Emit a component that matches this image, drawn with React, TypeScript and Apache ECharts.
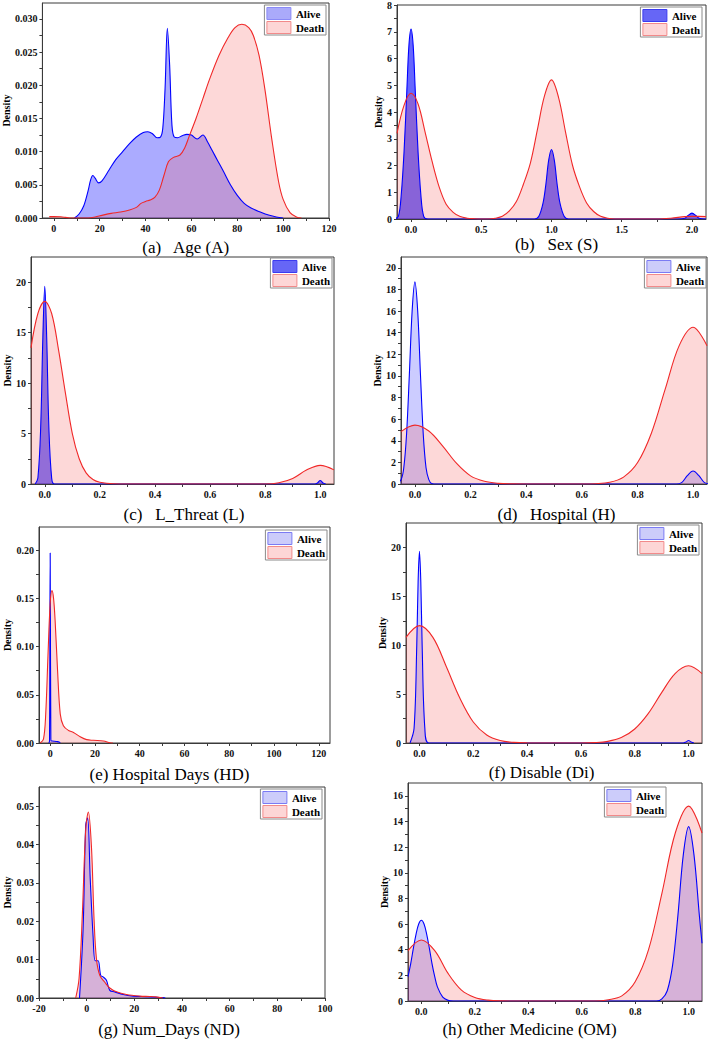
import React, { useEffect, useRef } from "react";
import * as echarts from "echarts";

// ---------- data ----------
const A_ALIVE_X = [9, 11, 13, 15, 16, 17, 18, 19.5, 21, 24, 27, 30, 33, 36, 39, 41, 43, 45, 46.5, 47.5, 48.5, 49.5, 50.5, 51.5, 52.5, 54, 56, 58, 60, 62.5, 65, 67, 69, 71.5, 74, 77, 80, 83, 86, 90, 94, 97, 100];
const A_ALIVE_Y = [0, 0.0006, 0.0018, 0.0042, 0.0057, 0.0064, 0.006, 0.0053, 0.0056, 0.0072, 0.0088, 0.01, 0.0112, 0.0122, 0.0129, 0.013, 0.0127, 0.0121, 0.0122, 0.0135, 0.0195, 0.0286, 0.023, 0.014, 0.0122, 0.0121, 0.0124, 0.0126, 0.0125, 0.0119, 0.0125, 0.0115, 0.0102, 0.0086, 0.007, 0.005, 0.0034, 0.0022, 0.0015, 0.0009, 0.0004, 0.00015, 0];
const A_DEATH_X = [-2, 0, 3, 5, 7, 15, 18, 21, 25, 29, 33, 36, 38, 40, 42, 44, 46, 48, 50, 52, 55, 57, 59, 62, 65, 68, 72, 76, 79, 82, 85, 87, 89.5, 92, 95, 98, 100, 103, 106, 108];
const A_DEATH_Y = [0.0002, 0.0002, 0.00018, 0.0001, 0, 0, 0.00015, 0.0004, 0.0007, 0.0009, 0.0012, 0.0016, 0.0022, 0.0025, 0.0027, 0.0031, 0.0042, 0.0064, 0.0085, 0.0091, 0.0095, 0.0105, 0.0123, 0.015, 0.018, 0.021, 0.0245, 0.0272, 0.0287, 0.0292, 0.0287, 0.0275, 0.0245, 0.0195, 0.012, 0.0055, 0.0028, 0.0008, 0.0001, 0];

const B_ALIVE_X = [-0.12, -0.09, -0.07, -0.05, -0.03, -0.015, 0, 0.015, 0.03, 0.05, 0.07, 0.09, 0.12, 0.88, 0.91, 0.94, 0.96, 0.98, 1.0, 1.02, 1.04, 1.06, 1.09, 1.12, 1.9, 1.95, 1.97, 2.0, 2.03, 2.05, 2.1];
const B_ALIVE_Y = [0, 0.1, 0.9, 2.5, 4.8, 6.5, 7.1, 6.5, 4.8, 2.5, 0.9, 0.1, 0, 0, 0.1, 0.6, 1.3, 2.2, 2.6, 2.2, 1.3, 0.6, 0.1, 0, 0, 0.03, 0.12, 0.22, 0.12, 0.03, 0];
const B_DEATH_X = [-0.1, -0.05, 0, 0.05, 0.1, 0.15, 0.2, 0.25, 0.3, 0.35, 0.4, 0.45, 0.5, 0.55, 0.6, 0.65, 0.7, 0.75, 0.8, 0.85, 0.9, 0.95, 1.0, 1.05, 1.1, 1.15, 1.2, 1.25, 1.3, 1.35, 1.4, 1.45, 1.5, 1.75, 1.85, 1.95, 2.0, 2.05, 2.1];
const B_DEATH_Y = [3.2, 4.25, 4.7, 4.3, 3.25, 2.15, 1.2, 0.55, 0.25, 0.09, 0.03, 0.01, 0, 0, 0.03, 0.1, 0.3, 0.65, 1.3, 2.1, 3.35, 4.6, 5.2, 4.55, 3.25, 2.0, 1.2, 0.6, 0.28, 0.1, 0.03, 0, 0, 0, 0.03, 0.09, 0.1, 0.1, 0.09];

const C_ALIVE_X = [-0.035, -0.025, -0.015, -0.007, 0, 0.007, 0.015, 0.025, 0.035, 0.98, 0.99, 1.0, 1.01, 1.02];
const C_ALIVE_Y = [0, 0.6, 5.5, 14.5, 19.6, 14.5, 5.5, 0.6, 0, 0, 0.1, 0.35, 0.1, 0];
const C_DEATH_X = [-0.05, -0.025, 0, 0.025, 0.05, 0.075, 0.1, 0.125, 0.15, 0.175, 0.2, 0.25, 0.3, 0.8, 0.85, 0.9, 0.95, 1.0, 1.05];
const C_DEATH_Y = [13.5, 16.9, 18.1, 16.9, 13.3, 9.0, 5.0, 2.5, 1.1, 0.45, 0.18, 0.02, 0, 0, 0.12, 0.55, 1.38, 1.85, 1.4];

const D_ALIVE_X = [-0.07, -0.05, -0.04, -0.03, -0.02, -0.01, 0, 0.01, 0.02, 0.03, 0.04, 0.05, 0.06, 0.08, 0.94, 0.96, 0.98, 1.0, 1.02, 1.04, 1.06];
const D_ALIVE_Y = [0, 0.4, 1.5, 4.6, 10.1, 16.0, 18.7, 16.0, 10.1, 4.6, 1.5, 0.4, 0.05, 0, 0, 0.15, 0.8, 1.2, 0.8, 0.15, 0];
const D_DEATH_X = [-0.05, 0, 0.05, 0.1, 0.15, 0.2, 0.25, 0.3, 0.35, 0.4, 0.6, 0.65, 0.7, 0.75, 0.8, 0.85, 0.9, 0.95, 1.0, 1.05];
const D_DEATH_Y = [4.85, 5.45, 4.9, 3.5, 1.9, 0.75, 0.25, 0.06, 0.01, 0, 0, 0.03, 0.16, 0.64, 1.96, 4.7, 8.8, 12.8, 14.5, 12.8];

const E_ALIVE_X = [-0.6, -0.3, 0, 0.3, 0.6, 1, 2, 3, 4, 4.5];
const E_ALIVE_Y = [0, 0.002, 0.197, 0.004, 0.002, 0.002, 0.0018, 0.0015, 0.001, 0];
const E_DEATH_X = [-4.5, -3, -2, -1, 0, 0.8, 1.5, 2.2, 3.3, 4.5, 5.9, 8.2, 10.4, 13.4, 16.3, 19.3, 23.8, 26.7, 28];
const E_DEATH_Y = [0, 0.004, 0.03, 0.09, 0.145, 0.158, 0.15, 0.127, 0.075, 0.03, 0.018, 0.013, 0.011, 0.0065, 0.0035, 0.0028, 0.002, 0.0003, 0];

const F_ALIVE_X = [-0.035, -0.02, -0.01, -0.005, 0, 0.005, 0.01, 0.02, 0.035, 0.98, 0.99, 1.0, 1.01, 1.02];
const F_ALIVE_Y = [0, 1.5, 10, 16.5, 19.6, 16.5, 10, 1.5, 0, 0, 0.1, 0.25, 0.1, 0];
const F_DEATH_X = [-0.05, 0, 0.05, 0.1, 0.15, 0.2, 0.25, 0.3, 0.35, 0.4, 0.6, 0.65, 0.7, 0.75, 0.8, 0.85, 0.9, 0.95, 1.0, 1.05];
const F_DEATH_Y = [10.8, 12.0, 10.8, 7.8, 4.6, 2.15, 0.82, 0.25, 0.06, 0.01, 0, 0.04, 0.17, 0.55, 1.43, 3.0, 5.15, 7.1, 7.9, 7.1];

const G_ALIVE_X = [-3, -1.5, -0.4, 0.4, 1.5, 2.7, 3.6, 4.8, 5.9, 7.1, 8.3, 9.7, 11.8, 15.3, 19.5, 25, 32, 33];
const G_ALIVE_Y = [0, 0.018, 0.045, 0.047, 0.031, 0.016, 0.0097, 0.0097, 0.0059, 0.0054, 0.0046, 0.002, 0.0016, 0.0009, 0.0005, 0.00035, 0.0001, 0];
const G_DEATH_X = [-4.6, -3.2, -1.8, -0.4, 0.7, 2, 3.1, 4.1, 5.5, 7.6, 9.7, 12.5, 16.7, 22.3, 26.5, 29, 32];
const G_DEATH_Y = [0, 0.005, 0.022, 0.044, 0.0485, 0.0395, 0.0205, 0.0102, 0.0059, 0.0041, 0.0026, 0.0016, 0.0009, 0.0005, 0.0004, 0.0003, 0];

const H_ALIVE_X = [-0.05, -0.04, -0.03, -0.02, -0.01, 0, 0.01, 0.02, 0.03, 0.04, 0.05, 0.06, 0.08, 0.1, 0.12, 0.88, 0.9, 0.92, 0.94, 0.96, 0.98, 1.0, 1.02, 1.04, 1.05];
const H_ALIVE_Y = [1.9, 2.9, 4.1, 5.2, 6.0, 6.3, 6.0, 5.2, 4.1, 2.9, 1.9, 1.1, 0.3, 0.05, 0, 0, 0.16, 0.8, 2.8, 6.7, 11.4, 13.6, 11.4, 6.7, 4.5];
const H_DEATH_X = [-0.05, 0, 0.05, 0.1, 0.15, 0.2, 0.25, 0.3, 0.35, 0.65, 0.7, 0.75, 0.8, 0.85, 0.9, 0.95, 1.0, 1.05];
const H_DEATH_Y = [3.93, 4.76, 3.93, 2.15, 0.85, 0.28, 0.07, 0.01, 0, 0, 0.1, 0.4, 1.5, 4.0, 8.4, 13.1, 15.2, 13.1];

// tick labels
const A_X_TICKS = [0, 20, 40, 60, 80, 100, 120];
const A_Y_TICKS = [0, 0.005, 0.01, 0.015, 0.02, 0.025, 0.03];
const B_X_TICKS = [0, 0.5, 1.0, 1.5, 2.0];
const B_Y_TICKS = [0, 1, 2, 3, 4, 5, 6, 7, 8];
const C_X_TICKS = [0, 0.2, 0.4, 0.6, 0.8, 1.0];
const C_Y_TICKS = [0, 5, 10, 15, 20];
const D_X_TICKS = [0, 0.2, 0.4, 0.6, 0.8, 1.0];
const D_Y_TICKS = [0, 2, 4, 6, 8, 10, 12, 14, 16, 18, 20];
const E_X_TICKS = [0, 20, 40, 60, 80, 100, 120];
const E_Y_TICKS = [0, 0.05, 0.1, 0.15, 0.2];
const F_X_TICKS = [0, 0.2, 0.4, 0.6, 0.8, 1.0];
const F_Y_TICKS = [0, 5, 10, 15, 20];
const G_X_TICKS = [-20, 0, 20, 40, 60, 80, 100];
const G_Y_TICKS = [0, 0.01, 0.02, 0.03, 0.04, 0.05];
const H_X_TICKS = [0, 0.2, 0.4, 0.6, 0.8, 1.0];
const H_Y_TICKS = [0, 2, 4, 6, 8, 10, 12, 14, 16];

const CAPTIONS = [
  "(a)   Age (A)",
  "(b)   Sex (S)",
  "(c)   L_Threat (L)",
  "(d)   Hospital (H)",
  "(e) Hospital Days (HD)",
  "(f) Disable (Di)",
  "(g) Num_Days (ND)",
  "(h) Other Medicine (OM)",
];

// ---------- layout / style ----------
const FONT = "Liberation Serif";
const AXIS_COLOR = "#3a3a3a";
const RED_LINE = "#f02828";
const BLUE_LINE = "#0000ff";
const RED_FILL = "rgba(245,90,90,0.24)";

type Panel = {
  grid: { left: number; top: number; width: number; height: number };
  x: [number, number];
  y: [number, number];
  xTicks: number[];
  yTicks: number[];
  xDec: number;
  yDec: number;
  capGap: number;
  capPad: number[];
  denGap: number;
  legend: { right: number; top: number };
  aliveFill: string;
  aliveSwatch: string;
  aliveSwatchBorder: string;
  alive: [number[], number[]];
  death: [number[], number[]];
};

const STRONG = { fill: "rgba(0,0,255,0.6)", sw: "#6666f6", swb: "#3b3bf0" };
const LIGHT = { fill: "rgba(0,0,255,0.2)", sw: "#ccccfa", swb: "#7b7bf3" };

const PANELS: Panel[] = [
  { grid: { left: 38, top: 3, width: 291, height: 215 }, x: [-5, 120], y: [0, 0.0324], xTicks: A_X_TICKS, yTicks: A_Y_TICKS, xDec: 0, yDec: 3, capGap: 21, capPad: [0, 0, 0, 0], denGap: 27, legend: { right: 382, top: 5 }, aliveFill: "rgba(0,0,255,0.33)", aliveSwatch: "#aaaafa", aliveSwatchBorder: "#8a8af6", alive: [A_ALIVE_X, A_ALIVE_Y], death: [A_DEATH_X, A_DEATH_Y] },
  { grid: { left: 397, top: 4, width: 309, height: 215 }, x: [-0.1, 2.1], y: [0, 8], xTicks: B_X_TICKS, yTicks: B_Y_TICKS, xDec: 1, yDec: 0, capGap: 17, capPad: [0, 0, 0, 10], denGap: 13, legend: { right: 6, top: 7 }, aliveFill: STRONG.fill, aliveSwatch: STRONG.sw, aliveSwatchBorder: STRONG.swb, alive: [B_ALIVE_X, B_ALIVE_Y], death: [B_DEATH_X, B_DEATH_Y] },
  { grid: { left: 31, top: 257, width: 303, height: 227 }, x: [-0.05, 1.05], y: [0, 22.5], xTicks: C_X_TICKS, yTicks: C_Y_TICKS, xDec: 1, yDec: 0, capGap: 22, capPad: [0, 0, 0, 3], denGap: 18, legend: { right: 376, top: 258 }, aliveFill: "rgba(0,0,255,0.55)", aliveSwatch: STRONG.sw, aliveSwatchBorder: STRONG.swb, alive: [C_ALIVE_X, C_ALIVE_Y], death: [C_DEATH_X, C_DEATH_Y] },
  { grid: { left: 401, top: 257, width: 306, height: 227 }, x: [-0.05, 1.05], y: [0, 21], xTicks: D_X_TICKS, yTicks: D_Y_TICKS, xDec: 1, yDec: 0, capGap: 22, capPad: [0, 0, 0, 5], denGap: 17, legend: { right: 2, top: 258 }, aliveFill: LIGHT.fill, aliveSwatch: LIGHT.sw, aliveSwatchBorder: LIGHT.swb, alive: [D_ALIVE_X, D_ALIVE_Y], death: [D_DEATH_X, D_DEATH_Y] },
  { grid: { left: 39, top: 527, width: 291, height: 216 }, x: [-5, 125], y: [0, 0.224], xTicks: E_X_TICKS, yTicks: E_Y_TICKS, xDec: 0, yDec: 2, capGap: 23, capPad: [0, 30, 0, 0], denGap: 24, legend: { right: 381, top: 530 }, aliveFill: LIGHT.fill, aliveSwatch: LIGHT.sw, aliveSwatchBorder: LIGHT.swb, alive: [E_ALIVE_X, E_ALIVE_Y], death: [E_DEATH_X, E_DEATH_Y] },
  { grid: { left: 406, top: 523, width: 296, height: 220 }, x: [-0.05, 1.05], y: [0, 22.5], xTicks: F_X_TICKS, yTicks: F_Y_TICKS, xDec: 1, yDec: 0, capGap: 21, capPad: [0, 25, 0, 0], denGap: 17, legend: { right: 9, top: 525 }, aliveFill: LIGHT.fill, aliveSwatch: LIGHT.sw, aliveSwatchBorder: LIGHT.swb, alive: [F_ALIVE_X, F_ALIVE_Y], death: [F_DEATH_X, F_DEATH_Y] },
  { grid: { left: 39, top: 787, width: 286, height: 212 }, x: [-20, 100], y: [0, 0.055], xTicks: G_X_TICKS, yTicks: G_Y_TICKS, xDec: 0, yDec: 2, capGap: 23, capPad: [0, 26, 0, 0], denGap: 22, legend: { right: 386, top: 789 }, aliveFill: LIGHT.fill, aliveSwatch: LIGHT.sw, aliveSwatchBorder: LIGHT.swb, alive: [G_ALIVE_X, G_ALIVE_Y], death: [G_DEATH_X, G_DEATH_Y] },
  { grid: { left: 408, top: 783, width: 294, height: 218 }, x: [-0.05, 1.05], y: [0, 17], xTicks: H_X_TICKS, yTicks: H_Y_TICKS, xDec: 1, yDec: 0, capGap: 20, capPad: [0, 51, 0, 0], denGap: 17, legend: { right: 42, top: 787 }, aliveFill: LIGHT.fill, aliveSwatch: LIGHT.sw, aliveSwatchBorder: LIGHT.swb, alive: [H_ALIVE_X, H_ALIVE_Y], death: [H_DEATH_X, H_DEATH_Y] },
];

function withMinors(ticks: number[], lo: number, hi: number): number[] {
  const out: number[] = [...ticks];
  const step = ticks[1] - ticks[0];
  for (let i = 0; i < ticks.length - 1; i++) out.push((ticks[i] + ticks[i + 1]) / 2);
  const before = ticks[0] - step / 2;
  const after = ticks[ticks.length - 1] + step / 2;
  if (before > lo + 1e-9) out.push(before);
  if (after < hi - 1e-9) out.push(after);
  return out.sort((a, b) => a - b);
}

function zip(xs: number[], ys: number[]): number[][] {
  return xs.map((x, i) => [x, ys[i]]);
}

function buildOption() {
  const grid = PANELS.map((p) => ({
    ...p.grid,
    show: true,
    borderColor: AXIS_COLOR,
    borderWidth: 1,
    backgroundColor: "transparent",
    containLabel: false,
  }));

  const labelStyle = { fontFamily: FONT, fontWeight: "bold" as const, fontSize: 10, color: "#111" };

  const xAxis = PANELS.map((p, i) => ({
    type: "value",
    gridIndex: i,
    min: p.x[0],
    max: p.x[1],
    axisLine: { show: true, onZero: false, lineStyle: { color: AXIS_COLOR, width: 1 } },
    axisTick: { show: true, inside: false, length: 3, customValues: withMinors(p.xTicks, p.x[0], p.x[1]), lineStyle: { color: AXIS_COLOR } },
    axisLabel: { ...labelStyle, margin: 5, customValues: p.xTicks, formatter: (v: number) => Number(v).toFixed(p.xDec) },
    splitLine: { show: false },
    name: CAPTIONS[i],
    nameLocation: "middle",
    nameGap: p.capGap,
    nameTextStyle: { fontFamily: FONT, fontSize: 17, color: "#000", padding: p.capPad },
  }));

  const yAxis = PANELS.map((p, i) => ({
    type: "value",
    gridIndex: i,
    min: p.y[0],
    max: p.y[1],
    axisLine: { show: true, onZero: false, lineStyle: { color: AXIS_COLOR, width: 1 } },
    axisTick: { show: true, inside: false, length: 3, customValues: withMinors(p.yTicks, p.y[0], p.y[1]), lineStyle: { color: AXIS_COLOR } },
    axisLabel: { ...labelStyle, margin: 5, customValues: p.yTicks, formatter: (v: number) => Number(v).toFixed(p.yDec) },
    splitLine: { show: false },
    name: "Density",
    nameLocation: "middle",
    nameGap: p.denGap,
    nameTextStyle: { fontFamily: FONT, fontWeight: "bold", fontSize: 10, color: "#000" },
  }));

  const series: any[] = [];
  PANELS.forEach((p, i) => {
    series.push({
      type: "line",
      name: "Alive",
      xAxisIndex: i,
      yAxisIndex: i,
      data: zip(p.alive[0], p.alive[1]),
      showSymbol: false,
      smooth: 0.35,
      lineStyle: { color: BLUE_LINE, width: 1.1 },
      itemStyle: { color: BLUE_LINE },
      areaStyle: { color: p.aliveFill, opacity: 1 },
      silent: true,
    });
    series.push({
      type: "line",
      name: "Death",
      xAxisIndex: i,
      yAxisIndex: i,
      data: zip(p.death[0], p.death[1]),
      showSymbol: false,
      smooth: 0.35,
      lineStyle: { color: RED_LINE, width: 1.1 },
      itemStyle: { color: RED_LINE },
      areaStyle: { color: RED_FILL, opacity: 1 },
      silent: true,
    });
  });

  const legend = PANELS.map((p) => ({
    orient: "vertical",
    right: p.legend.right,
    top: p.legend.top,
    padding: [2, 2, 1, 2],
    itemGap: 1,
    itemWidth: 24,
    itemHeight: 12,
    backgroundColor: "#fff",
    borderColor: "#8a8a8a",
    borderWidth: 1,
    selectedMode: false,
    textStyle: { fontFamily: FONT, fontWeight: "bold", fontSize: 11, color: "#000" },
    data: [
      { name: "Alive", icon: "rect", itemStyle: { color: p.aliveSwatch, borderColor: p.aliveSwatchBorder, borderWidth: 1 } },
      { name: "Death", icon: "rect", itemStyle: { color: "#fdd6d6", borderColor: "#f28a8a", borderWidth: 1 } },
    ],
  }));

  return {
    animation: false,
    backgroundColor: "#fff",
    textStyle: { fontFamily: FONT },
    grid,
    xAxis,
    yAxis,
    series,
    legend,
  };
}

export default function App() {
  const ref = useRef<HTMLDivElement>(null);
  useEffect(() => {
    if (!ref.current) return;
    const chart = echarts.init(ref.current, undefined, { renderer: "svg" });
    chart.setOption(buildOption() as any);
    return () => chart.dispose();
  }, []);
  return (
    <div
      ref={ref}
      style={{ position: "absolute", left: 0, top: 0, width: 708, height: 1039, background: "#fff" }}
    />
  );
}
